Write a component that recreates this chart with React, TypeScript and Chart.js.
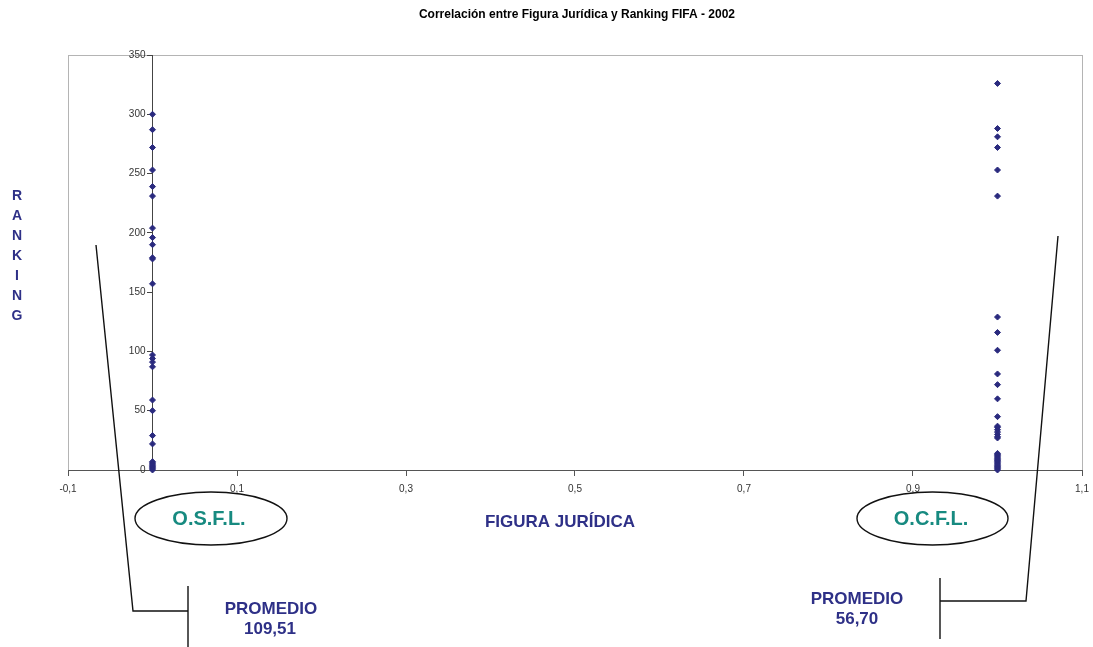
import React, { useEffect, useRef } from 'react';
import { Chart, registerables } from 'chart.js';

Chart.register(...registerables);

// ---- Data ----
const chartTitle = 'Correlación entre Figura Jurídica y Ranking FIFA - 2002';
const xAxisTitle = 'FIGURA JURÍDICA';
const yAxisTitle = 'RANKING';
const groupLabels = ['O.S.F.L.', 'O.C.F.L.'];
const promedioLabel = 'PROMEDIO';
const promedioValues = ['109,51', '56,70'];

const osflX = 0;
const ocflX = 1;
const osflRanking = [300, 287, 272, 253, 239, 231, 204, 196, 190, 179, 178, 157, 97, 94, 91, 87, 59, 50, 29, 22, 7, 6, 5, 4, 3, 2, 1, 0];
const ocflRanking = [326, 288, 281, 272, 253, 231, 129, 116, 101, 81, 72, 60, 45, 37, 36, 34, 32, 30, 28, 27, 14, 13, 12, 11, 10, 9, 8, 7, 6, 5, 4, 3, 2, 1, 0];

const xTickValues = [-0.1, 0.1, 0.3, 0.5, 0.7, 0.9, 1.1];
const yTickValues = [0, 50, 100, 150, 200, 250, 300, 350];

const FONT = "'Liberation Sans', Arial, sans-serif";
const NAVY = '#2e3087';
const TEAL = '#178a80';
const MARKER = '#2a2a7e';

const decorPlugin = {
  id: 'decor',
  beforeDraw(chart: any) {
    const { ctx, chartArea } = chart;
    ctx.save();
    ctx.strokeStyle = '#b4b4b4';
    ctx.lineWidth = 1;
    ctx.strokeRect(chartArea.left + 0.5, chartArea.top + 0.5, chartArea.right - chartArea.left, chartArea.bottom - chartArea.top);
    ctx.restore();
  },
  afterDraw(chart: any) {
    const { ctx } = chart;
    const xs = chart.scales.x;
    const ys = chart.scales.y;
    ctx.save();

    // Y tick labels, left of the axis placed at x = 0
    const axisX = xs.getPixelForValue(0);
    ctx.fillStyle = '#333';
    ctx.font = `10px ${FONT}`;
    ctx.textAlign = 'right';
    ctx.textBaseline = 'middle';
    ys.ticks.forEach((t: any) => {
      ctx.fillText(t.label ?? String(t.value), axisX - 7, ys.getPixelForValue(t.value));
    });

    ctx.textAlign = 'center';
    ctx.textBaseline = 'middle';

    // Title
    ctx.fillStyle = '#000';
    ctx.font = `bold 12px ${FONT}`;
    ctx.fillText(chartTitle, 577, 15);

    // Y axis title, stacked letters
    ctx.fillStyle = NAVY;
    ctx.font = `bold 14px ${FONT}`;
    yAxisTitle.split('').forEach((ch, i) => {
      ctx.fillText(ch, 17, 196 + i * 20);
    });

    // X axis title
    ctx.font = `bold 17px ${FONT}`;
    ctx.fillText(xAxisTitle, 560, 522);

    // Ellipses
    ctx.strokeStyle = '#111';
    ctx.lineWidth = 1.4;
    ctx.beginPath();
    ctx.ellipse(211, 518.5, 76, 26.5, 0, 0, Math.PI * 2);
    ctx.stroke();
    ctx.beginPath();
    ctx.ellipse(932.5, 518.5, 75.5, 26.5, 0, 0, Math.PI * 2);
    ctx.stroke();

    ctx.fillStyle = TEAL;
    ctx.font = `bold 20px ${FONT}`;
    ctx.fillText(groupLabels[0], 209, 519);
    ctx.fillText(groupLabels[1], 931, 519);

    // Callout lines
    ctx.strokeStyle = '#111';
    ctx.lineWidth = 1.4;
    ctx.beginPath();
    ctx.moveTo(96, 245);
    ctx.lineTo(133, 611);
    ctx.lineTo(188, 611);
    ctx.moveTo(188, 586);
    ctx.lineTo(188, 647);
    ctx.moveTo(1058, 236);
    ctx.lineTo(1026, 601);
    ctx.lineTo(940, 601);
    ctx.moveTo(940, 578);
    ctx.lineTo(940, 639);
    ctx.stroke();

    // Promedio labels
    ctx.fillStyle = NAVY;
    ctx.font = `bold 17px ${FONT}`;
    ctx.fillText(promedioLabel, 271, 609);
    ctx.fillText(promedioValues[0], 270, 629);
    ctx.fillText(promedioLabel, 857, 599);
    ctx.fillText(promedioValues[1], 857, 619);

    ctx.restore();
  },
};

const fmt = (v: number) => {
  const s = (Math.round(v * 10) / 10).toString();
  return s.replace('.', ',');
};

export default function App() {
  const canvasRef = useRef<HTMLCanvasElement | null>(null);

  useEffect(() => {
    if (!canvasRef.current) return;
    const chart = new Chart(canvasRef.current, {
      type: 'scatter',
      data: {
        datasets: [
          {
            label: groupLabels[0],
            data: osflRanking.map((r) => ({ x: osflX, y: r })),
            backgroundColor: MARKER,
            borderColor: MARKER,
            pointStyle: 'rectRot',
            pointRadius: 3,
            borderWidth: 1,
            clip: false as any,
          },
          {
            label: groupLabels[1],
            data: ocflRanking.map((r) => ({ x: ocflX, y: r })),
            backgroundColor: MARKER,
            borderColor: MARKER,
            pointStyle: 'rectRot',
            pointRadius: 3,
            borderWidth: 1,
            clip: false as any,
          },
        ],
      },
      options: {
        animation: false,
        responsive: true,
        maintainAspectRatio: false,
        layout: { autoPadding: false, padding: { left: 68, top: 55, right: 11, bottom: 177 } } as any,
        plugins: {
          legend: { display: false },
          title: { display: false },
          tooltip: { enabled: false },
        },
        scales: {
          x: {
            type: 'linear',
            position: { y: 0 } as any,
            min: -0.1,
            max: 1.1,
            afterBuildTicks: (scale: any) => {
              scale.ticks = xTickValues.map((v) => ({ value: v }));
            },
            afterFit: (scale: any) => {
              scale.paddingLeft = 0;
              scale.paddingRight = 0;
            },
            grid: {
              drawOnChartArea: false,
              drawTicks: true,
              tickLength: 5,
              color: '#555',
            },
            border: { display: true, color: '#555', width: 1 },
            ticks: {
              autoSkip: false,
              maxRotation: 0,
              padding: 8,
              color: '#333',
              font: { family: FONT, size: 10 },
              callback: (v: any) => fmt(Number(v)),
            },
          },
          y: {
            type: 'linear',
            position: { x: 0 } as any,
            min: 0,
            max: 350,
            afterBuildTicks: (scale: any) => {
              scale.ticks = yTickValues.map((v) => ({ value: v }));
            },
            afterFit: (scale: any) => {
              scale.paddingTop = 0;
              scale.paddingBottom = 0;
            },
            grid: {
              drawOnChartArea: false,
              drawTicks: true,
              tickLength: 5,
              color: '#444',
            },
            border: { display: true, color: '#444', width: 1 },
            ticks: {
              display: false,
              autoSkip: false,
              callback: (v: any) => String(v),
            },
          },
        },
      },
      plugins: [decorPlugin],
    });
    return () => chart.destroy();
  }, []);

  return (
    <div style={{ position: 'fixed', left: 0, top: 0, width: 1093, height: 647, background: '#fff' }}>
      <canvas ref={canvasRef} />
    </div>
  );
}
